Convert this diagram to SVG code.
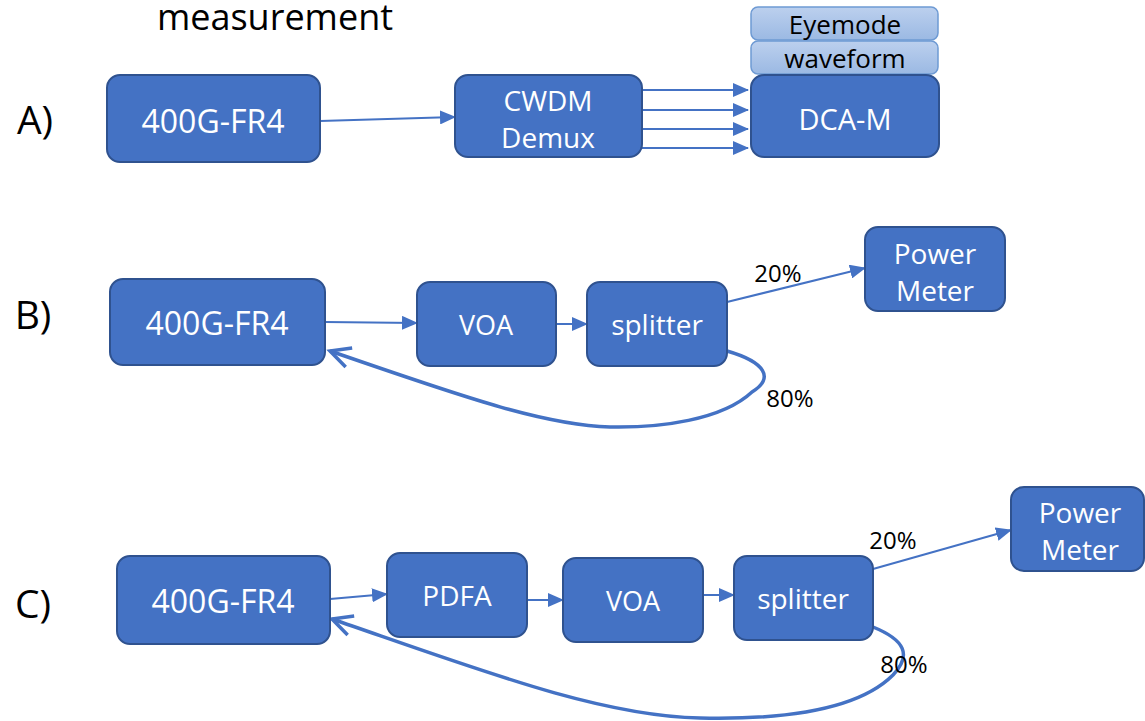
<svg xmlns="http://www.w3.org/2000/svg" width="1145" height="721" viewBox="0 0 1145 721">
<style>
.box{fill:#4472c4;stroke:#2f528f;stroke-width:2}
.lite{fill:url(#lg);stroke:#6e9ad3;stroke-width:1.5}
.t{font-family:"Open Sans","Noto Sans",sans-serif;fill:#fff;text-anchor:middle;dominant-baseline:central}
.k{font-family:"Open Sans","Noto Sans",sans-serif;fill:#000;text-anchor:middle;dominant-baseline:central}
.ln{fill:none;stroke:#4472c4;stroke-width:2}
.cv{fill:none;stroke:#4472c4;stroke-width:3.5}
</style>
<defs>
<linearGradient id="lg" x1="0" y1="0" x2="0" y2="1"><stop offset="0" stop-color="#bcd0ee"/><stop offset="1" stop-color="#9bb9e3"/></linearGradient>
<marker id="ah" markerUnits="userSpaceOnUse" markerWidth="16" markerHeight="14" refX="15" refY="7" orient="auto"><path d="M0,0 L16,7 L0,14 Z" fill="#4472c4"/></marker>
<marker id="ov" markerUnits="userSpaceOnUse" markerWidth="26" markerHeight="26" refX="22" refY="13" orient="auto"><path d="M2,3 L22,13 L2,23" fill="none" stroke="#4472c4" stroke-width="3.5"/></marker>
</defs>

<text class="k" x="275" y="16" font-size="36">measurement</text>
<text class="k" x="35" y="118" font-size="39">A)</text>
<text class="k" x="33" y="313" font-size="39">B)</text>
<text class="k" x="33" y="602" font-size="39">C)</text>

<g id="connectors">
<line class="ln" x1="320" y1="121" x2="455" y2="117" marker-end="url(#ah)"/>
<line class="ln" x1="642" y1="90" x2="748" y2="90" marker-end="url(#ah)"/>
<line class="ln" x1="642" y1="110" x2="748" y2="110" marker-end="url(#ah)"/>
<line class="ln" x1="642" y1="129" x2="748" y2="129" marker-end="url(#ah)"/>
<line class="ln" x1="642" y1="148" x2="748" y2="148" marker-end="url(#ah)"/>

<line class="ln" x1="325" y1="322" x2="417" y2="323" marker-end="url(#ah)"/>
<line class="ln" x1="556" y1="324" x2="587" y2="324" marker-end="url(#ah)"/>
<line class="ln" x1="727" y1="302" x2="865" y2="268" marker-end="url(#ah)"/>
<path class="cv" d="M727,351 C765,362 775,378 752,392 C722,420 660,428 610,427 C540,425 450,392 330,351" marker-end="url(#ov)"/>

<line class="ln" x1="330" y1="599" x2="387" y2="594" marker-end="url(#ah)"/>
<line class="ln" x1="527" y1="600" x2="563" y2="600" marker-end="url(#ah)"/>
<line class="ln" x1="703" y1="595" x2="734" y2="595" marker-end="url(#ah)"/>
<line class="ln" x1="873" y1="569" x2="1011" y2="530" marker-end="url(#ah)"/>
<path class="cv" d="M873,627 C905,640 912,655 893,675 C860,708 790,720 700,718 C600,716 480,670 332,619" marker-end="url(#ov)"/>
</g>

<text class="k" x="778" y="272" font-size="24">20%</text>
<text class="k" x="790" y="397" font-size="24">80%</text>
<text class="k" x="893" y="539" font-size="24">20%</text>
<text class="k" x="904" y="663" font-size="24">80%</text>

<g id="a-fr4"><rect class="box" x="107" y="75" width="213" height="87" rx="13"/><text class="t" x="213" y="120" font-size="32">400G-FR4</text></g>
<g id="a-cwdm"><rect class="box" x="455" y="75" width="187" height="82" rx="13"/><text class="t" x="548" y="100" font-size="28">CWDM</text><text class="t" x="548" y="137" font-size="28">Demux</text></g>
<g id="a-eyemode"><rect class="lite" x="751" y="7" width="187" height="33" rx="7"/><text class="k" x="845" y="24" font-size="26">Eyemode</text></g>
<g id="a-waveform"><rect class="lite" x="751" y="41" width="187" height="33" rx="7"/><text class="k" x="845" y="58" font-size="26">waveform</text></g>
<g id="a-dca"><rect class="box" x="751" y="75" width="188" height="82" rx="13"/><text class="t" x="845" y="118" font-size="29">DCA-M</text></g>

<g id="b-fr4"><rect class="box" x="110" y="279" width="215" height="86" rx="13"/><text class="t" x="217" y="322" font-size="32">400G-FR4</text></g>
<g id="b-voa"><rect class="box" x="417" y="282" width="139" height="84" rx="13"/><text class="t" x="486" y="324" font-size="27">VOA</text></g>
<g id="b-splitter"><rect class="box" x="587" y="282" width="140" height="84" rx="13"/><text class="t" x="657" y="324" font-size="28">splitter</text></g>
<g id="b-pm"><rect class="box" x="865" y="227" width="140" height="84" rx="13"/><text class="t" x="935" y="253" font-size="28">Power</text><text class="t" x="935" y="290" font-size="28">Meter</text></g>

<g id="c-fr4"><rect class="box" x="117" y="556" width="213" height="88" rx="13"/><text class="t" x="223" y="600" font-size="32">400G-FR4</text></g>
<g id="c-pdfa"><rect class="box" x="387" y="553" width="140" height="84" rx="13"/><text class="t" x="457" y="595" font-size="28">PDFA</text></g>
<g id="c-voa"><rect class="box" x="563" y="558" width="140" height="84" rx="13"/><text class="t" x="633" y="600" font-size="27">VOA</text></g>
<g id="c-splitter"><rect class="box" x="734" y="556" width="139" height="84" rx="13"/><text class="t" x="803" y="598" font-size="28">splitter</text></g>
<g id="c-pm"><rect class="box" x="1011" y="487" width="133" height="84" rx="13"/><text class="t" x="1080" y="512" font-size="28">Power</text><text class="t" x="1080" y="549" font-size="28">Meter</text></g>
</svg>
